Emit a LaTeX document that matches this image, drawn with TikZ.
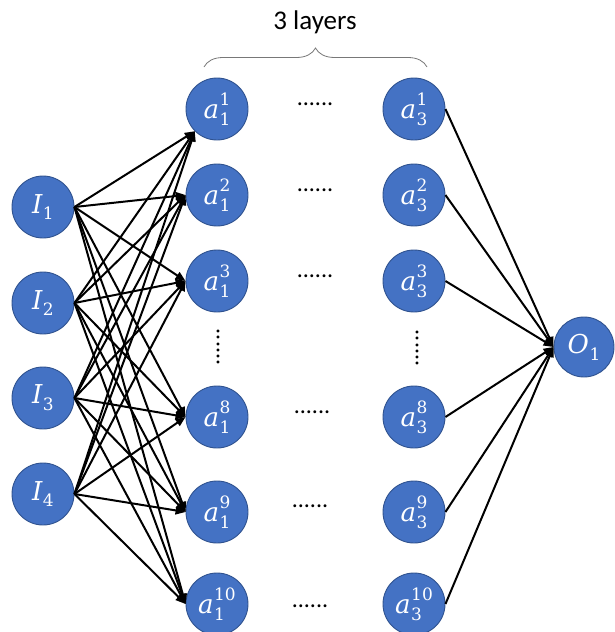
\documentclass[tikz,border=0pt]{standalone}
\usepackage{fontspec}
\newfontfamily\calib{Carlito}
\newfontfamily\lblserif{DejaVu Serif}
\usetikzlibrary{arrows.meta,decorations.pathreplacing}
\definecolor{nfill}{RGB}{68,114,196}
\definecolor{nborder}{RGB}{47,82,143}
\definecolor{bracegray}{RGB}{120,120,120}
\newlength\lwa \newlength\lwb
\newcommand\lblsmall{\fontsize{17}{18}\selectfont}
\newcommand\lbl[3]{\settowidth\lwa{\lblsmall #2}\settowidth\lwb{\lblsmall #3}%
  \ifdim\lwa<\lwb \lwa=\lwb\fi
  {\itshape #1}\kern0.5pt\makebox[\lwa][l]{\raisebox{-0.26em}{\lblsmall #2}}%
  \makebox[0pt][r]{\makebox[\lwa][l]{\raisebox{0.5em}{\lblsmall #3}}}}
\begin{document}
\begin{tikzpicture}[x=1pt,y=-1pt,
  neuron/.style={circle,minimum size=62pt,inner sep=0pt,fill=nfill,draw=nborder,line width=0.9pt,text=white,font=\lblserif\fontsize{26}{28}\selectfont},
  conn/.style={line width=2pt,-{Triangle[length=10pt,width=8pt]}},
  hdots/.style={font=\calib\fontsize{24}{26}\selectfont,inner sep=0pt},
  vdots/.style={font=\calib\fontsize{24}{26}\selectfont,inner sep=0pt,rotate=90}]
\useasboundingbox (0,0) rectangle (615,632);
% inputs
\node[neuron] (I1) at (43,207) {\lbl{I}{1}{}};
\node[neuron] (I2) at (43,303) {\lbl{I}{2}{}};
\node[neuron] (I3) at (43,398) {\lbl{I}{3}{}};
\node[neuron] (I4) at (43,494) {\lbl{I}{4}{}};
% first hidden layer
\node[neuron] (a1) at (217,109) {\lbl{a}{1}{1}};
\node[neuron] (a2) at (217,195) {\lbl{a}{1}{2}};
\node[neuron] (a3) at (217,281) {\lbl{a}{1}{3}};
\node[neuron] (a8) at (217,417) {\lbl{a}{1}{8}};
\node[neuron] (a9) at (217,512) {\lbl{a}{1}{9}};
\node[neuron] (a10) at (217,604) {\lbl{a}{1}{10}};
% third hidden layer
\node[neuron] (b1) at (414,109) {\lbl{a}{3}{1}};
\node[neuron] (b2) at (414,195) {\lbl{a}{3}{2}};
\node[neuron] (b3) at (414,281) {\lbl{a}{3}{3}};
\node[neuron] (b8) at (414,417) {\lbl{a}{3}{8}};
\node[neuron] (b9) at (414,512) {\lbl{a}{3}{9}};
\node[neuron] (b10) at (414,604) {\lbl{a}{3}{10}};
% output
\node[neuron,minimum size=60pt] (O) at (584,347) {\lbl{O}{1}{}};
% dots
\node[hdots] (d1) at (315,104) {......};
\node[hdots] (d2) at (315,190) {......};
\node[hdots] (d3) at (315,276) {......};
\node[hdots] (d8) at (312,412) {......};
\node[hdots] (d9) at (310,506) {......};
\node[hdots] (d10) at (310,606) {......};
\node[vdots] (v1) at (218,347) {......};
\node[vdots] (v2) at (417,348) {......};
% brace and title
\draw[bracegray,line width=0.8pt,decorate,decoration={brace,amplitude=19pt,aspect=0.5}]
  (204,67) -- (427,67);
\node[font=\calib\fontsize{27}{30}\selectfont] (title) at (315,22) {3 layers};
% connections input -> first hidden
\foreach \i in {1,2,3,4}{
  \draw[conn] (I\i.east) -- (a1.south west);
  \foreach \k in {2,3,8,9,10}{
    \draw[conn] (I\i.east) -- (a\k.west);
  }
}
% connections third hidden -> output
\foreach \k in {1,2,3,8,9,10}{
  \draw[conn] (b\k.east) -- (O.west);
}
\end{tikzpicture}
\end{document}
